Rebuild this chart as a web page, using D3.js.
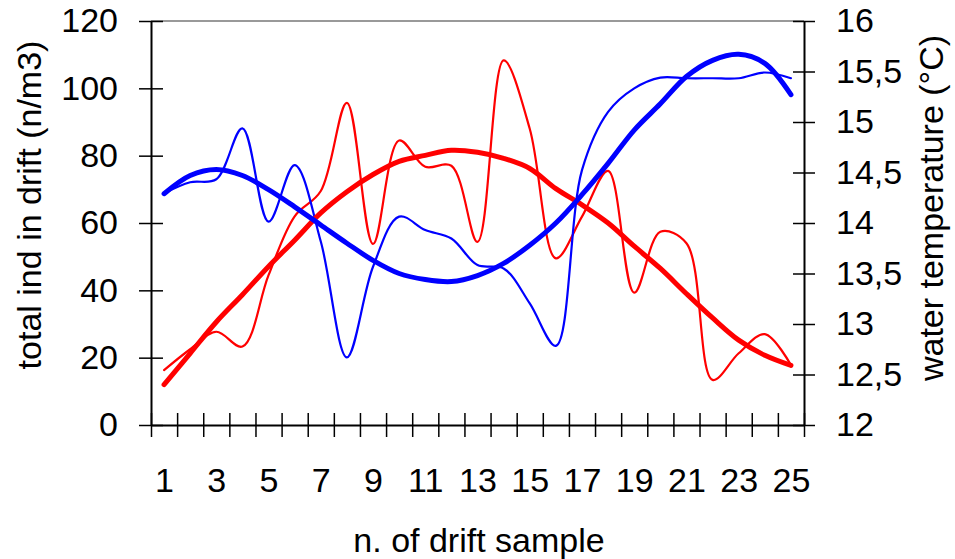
<!DOCTYPE html>
<html>
<head>
<meta charset="utf-8">
<script src="https://cdn.jsdelivr.net/npm/d3@7/dist/d3.min.js"></script>
<style>
  html, body { margin: 0; padding: 0; background: #fff; }
  svg { display: block; font-family: "Liberation Sans", Arial, sans-serif; }
</style>
</head>
<body>
<svg id="chart" width="955" height="559"></svg>
<script>
// ---- data ----
const samples = d3.range(1, 26);
const xTickLabels = [1, 3, 5, 7, 9, 11, 13, 15, 17, 19, 21, 23, 25];
const leftTicks = [0, 20, 40, 60, 80, 100, 120];
const rightTicks = [12, 12.5, 13, 13.5, 14, 14.5, 15, 15.5, 16];

// total ind in drift (n/m3) – thin lines, left axis
const driftRed  = [16.3, 22.5, 27.7, 23.3, 44.5, 62, 69.5, 95.7, 53.8, 84.5, 76.7, 77, 54.4, 108.3, 88, 49.5, 61.9, 75.5, 39.3, 57.4, 54, 13.4, 21.3, 27, 17.8];
const driftBlue = [68.8, 72.1, 73, 88.1, 60.4, 77.2, 54.5, 20.1, 47, 61.9, 57.9, 55.4, 47.5, 46.5, 36.1, 23.5, 75.7, 93, 100, 103.2, 103, 103, 103, 104.7, 103];

// water temperature (°C) – thick lines, right axis
const tempRed  = [12.40, 12.71, 13.02, 13.29, 13.57, 13.83, 14.10, 14.31, 14.48, 14.61, 14.67, 14.72, 14.70, 14.64, 14.54, 14.34, 14.18, 14.00, 13.77, 13.55, 13.30, 13.06, 12.84, 12.69, 12.59];
const tempBlue = [14.29, 14.47, 14.53, 14.47, 14.33, 14.16, 13.98, 13.80, 13.63, 13.50, 13.44, 13.42, 13.48, 13.60, 13.78, 14.00, 14.28, 14.59, 14.92, 15.18, 15.45, 15.61, 15.67, 15.58, 15.27];

// ---- layout ----
const L = 151, R = 804, T = 21, B = 425;
const FS = 34;

const svg = d3.select("#chart");

const x = d3.scaleLinear().domain([0.5, 25.5]).range([L, R]);
const yL = d3.scaleLinear().domain([0, 120]).range([B, T]);
const yR = d3.scaleLinear().domain([12, 16]).range([B, T]);

// top border
svg.append("line")
  .attr("x1", L).attr("x2", R).attr("y1", T).attr("y2", T)
  .attr("stroke", "#999").attr("stroke-width", 2);

// lines
const lineL = d3.line().x((d, i) => x(samples[i])).y(d => yL(d)).curve(d3.curveCatmullRom.alpha(0.5));
const lineR = d3.line().x((d, i) => x(samples[i])).y(d => yR(d)).curve(d3.curveCatmullRom.alpha(0.5));

const series = [
  { data: driftRed,  line: lineL, color: "#ff0000", w: 2.2 },
  { data: driftBlue, line: lineL, color: "#0000ff", w: 2.2 },
  { data: tempRed,   line: lineR, color: "#ff0000", w: 5 },
  { data: tempBlue,  line: lineR, color: "#0000ff", w: 5 }
];
series.forEach(s => {
  svg.append("path")
    .attr("d", s.line(s.data))
    .attr("fill", "none")
    .attr("stroke", s.color)
    .attr("stroke-width", s.w)
    .attr("stroke-linejoin", "round")
    .attr("stroke-linecap", "round");
});

// axes
function styleAxis(g) {
  g.select(".domain").attr("stroke", "#000").attr("stroke-width", 2);
  g.selectAll(".tick line").attr("stroke", "#000").attr("stroke-width", 1.5);
  g.selectAll("text").attr("font-size", FS).attr("fill", "#000")
    .attr("font-family", "'Liberation Sans', Arial, sans-serif");
}

// left axis
const gL = svg.append("g").attr("transform", `translate(${L},0)`)
  .call(d3.axisLeft(yL).tickValues(leftTicks).tickSize(12).tickPadding(21).tickSizeOuter(0));
gL.selectAll(".tick line").attr("x1", 12);
styleAxis(gL);

// right axis
const gR = svg.append("g").attr("transform", `translate(${R},0)`)
  .call(d3.axisRight(yR).tickValues(rightTicks).tickSize(11).tickPadding(21).tickSizeOuter(0)
    .tickFormat(d => String(d).replace(".", ",")));
gR.selectAll(".tick line").attr("x1", -11);
styleAxis(gR);

// bottom axis – ticks at category boundaries
const boundaries = d3.range(0, 26).map(i => i + 0.5);
const gB = svg.append("g").attr("transform", `translate(0,${B})`)
  .call(d3.axisBottom(x).tickValues(boundaries).tickSize(12).tickFormat("").tickSizeOuter(0));
gB.selectAll(".tick line").attr("y1", -12);
styleAxis(gB);

// bottom labels
const gBL = svg.append("g").attr("transform", `translate(0,${B})`)
  .call(d3.axisBottom(x).tickValues(xTickLabels).tickSize(0).tickPadding(43).tickFormat(d3.format("d")));
gBL.select(".domain").remove();
styleAxis(gBL);

// axis titles
svg.append("text")
  .attr("transform", "translate(41,205) rotate(-90)")
  .attr("text-anchor", "middle").attr("font-size", FS).attr("fill", "#000")
  .text("total ind in drift (n/m3)");

svg.append("text")
  .attr("transform", "translate(943,208) rotate(-90)")
  .attr("text-anchor", "middle").attr("font-size", FS).attr("fill", "#000")
  .text("water temperature (°C)");

svg.append("text")
  .attr("x", 479).attr("y", 552)
  .attr("text-anchor", "middle").attr("font-size", FS).attr("fill", "#000")
  .text("n. of drift sample");
</script>
</body>
</html>
